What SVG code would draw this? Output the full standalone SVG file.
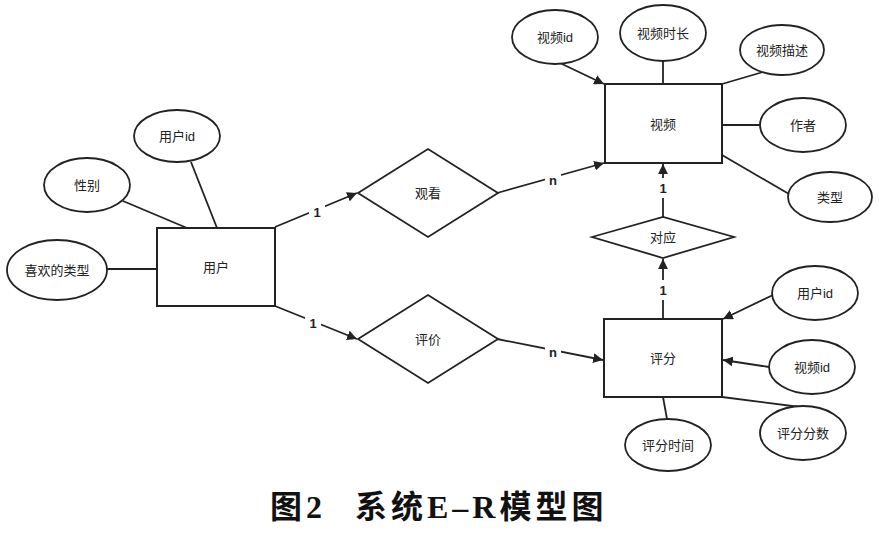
<svg xmlns="http://www.w3.org/2000/svg" width="879" height="535" viewBox="0 0 879 535">
<defs>
<marker id="arr" viewBox="0 0 10 10" refX="10" refY="5" markerWidth="5.5" markerHeight="5.5" orient="auto" markerUnits="strokeWidth">
<path d="M0,0 L10,5 L0,10 z" fill="#222"/>
</marker>
</defs>
<style>
.ent{fill:#fff;stroke:#222;stroke-width:2}
.att{fill:#fff;stroke:#222;stroke-width:1.8}
.rel{fill:#fff;stroke:#222;stroke-width:1.8}
.t{font-family:"Liberation Sans","Noto Sans CJK SC",sans-serif;font-size:13px;fill:#222;text-anchor:middle;dominant-baseline:central}
.lbl{font-family:"Liberation Sans","Noto Sans CJK SC",sans-serif;font-size:13px;font-weight:bold;fill:#222;text-anchor:middle;dominant-baseline:central}
.c{stroke:#222;stroke-width:1.8;fill:none}
.a{marker-end:url(#arr)}
.cap{font-family:"Liberation Serif","Noto Sans CJK SC",serif;font-size:32px;font-weight:bold;fill:#111;letter-spacing:4px}
</style>
<rect width="879" height="535" fill="#fff"/>
<g id="connectors">
<line class="c" x1="123" y1="201" x2="187" y2="228"/>
<line class="c" x1="191" y1="162" x2="217" y2="228"/>
<line class="c" x1="107" y1="269" x2="157" y2="269"/>
<line class="c a" x1="275" y1="227" x2="357" y2="193"/>
<line class="c a" x1="275" y1="306" x2="357" y2="339"/>
<line class="c a" x1="497" y1="193" x2="604" y2="163"/>
<line class="c a" x1="497" y1="339" x2="603" y2="360"/>
<line class="c a" x1="560" y1="63" x2="604" y2="84"/>
<line class="c" x1="663" y1="61" x2="663" y2="84"/>
<line class="c" x1="722" y1="84" x2="763" y2="72"/>
<line class="c" x1="722" y1="125" x2="760" y2="125"/>
<line class="c" x1="722" y1="155" x2="789" y2="194"/>
<line class="c a" x1="663" y1="217" x2="663" y2="164"/>
<line class="c a" x1="663" y1="319" x2="663" y2="259"/>
<line class="c a" x1="773" y1="295" x2="723" y2="319"/>
<line class="c a" x1="769" y1="367" x2="723" y2="360"/>
<line class="c" x1="722" y1="397" x2="800" y2="407"/>
<line class="c" x1="663" y1="397" x2="667" y2="419"/>
<rect x="309" y="204" width="16" height="16" fill="#fff"/>
<text class="lbl" x="317" y="212">1</text>
<rect x="305" y="315" width="16" height="16" fill="#fff"/>
<text class="lbl" x="313" y="323">1</text>
<rect x="545" y="172" width="16" height="16" fill="#fff"/>
<text class="lbl" x="553" y="180">n</text>
<rect x="545" y="344" width="16" height="16" fill="#fff"/>
<text class="lbl" x="553" y="352">n</text>
<rect x="656" y="178" width="14" height="20" fill="#fff"/>
<text class="lbl" x="663" y="188">1</text>
<rect x="656" y="280" width="14" height="20" fill="#fff"/>
<text class="lbl" x="663" y="290">1</text>
</g>
<g id="user">
<rect class="ent" x="157" y="228" width="118" height="78"/>
<text class="t" x="216" y="267">用户</text>
</g>
<g id="user-id">
<ellipse class="att" cx="177" cy="136" rx="43" ry="26"/>
<text class="t" x="177" y="136">用户id</text>
</g>
<g id="gender">
<ellipse class="att" cx="87" cy="185" rx="43" ry="27"/>
<text class="t" x="87" y="185">性别</text>
</g>
<g id="fav-type">
<ellipse class="att" cx="57" cy="270" rx="50" ry="30"/>
<text class="t" x="57" y="270">喜欢的类型</text>
</g>
<g id="watch">
<polygon class="rel" points="358,193 428,149 498,193 428,237"/>
<text class="t" x="428" y="193">观看</text>
</g>
<g id="review">
<polygon class="rel" points="358,339 428,295 498,339 428,383"/>
<text class="t" x="428" y="339">评价</text>
</g>
<g id="video">
<rect class="ent" x="605" y="84" width="117" height="79"/>
<text class="t" x="663" y="124">视频</text>
</g>
<g id="video-id">
<ellipse class="att" cx="555" cy="37" rx="43" ry="27"/>
<text class="t" x="555" y="37">视频id</text>
</g>
<g id="video-duration">
<ellipse class="att" cx="663" cy="33" rx="43" ry="28"/>
<text class="t" x="663" y="33">视频时长</text>
</g>
<g id="video-desc">
<ellipse class="att" cx="782" cy="50" rx="42" ry="25"/>
<text class="t" x="782" y="50">视频描述</text>
</g>
<g id="author">
<ellipse class="att" cx="803" cy="125" rx="43" ry="27"/>
<text class="t" x="803" y="125">作者</text>
</g>
<g id="type">
<ellipse class="att" cx="830" cy="197" rx="42" ry="25"/>
<text class="t" x="830" y="197">类型</text>
</g>
<g id="correspond">
<polygon class="rel" points="592,237 663,217 734,237 663,258"/>
<text class="t" x="663" y="237">对应</text>
</g>
<g id="rating">
<rect class="ent" x="604" y="319" width="118" height="78"/>
<text class="t" x="663" y="358">评分</text>
</g>
<g id="r-user-id">
<ellipse class="att" cx="815" cy="293" rx="43" ry="27"/>
<text class="t" x="815" y="293">用户id</text>
</g>
<g id="r-video-id">
<ellipse class="att" cx="812" cy="367" rx="43" ry="27"/>
<text class="t" x="812" y="367">视频id</text>
</g>
<g id="r-score">
<ellipse class="att" cx="803" cy="433" rx="43" ry="27"/>
<text class="t" x="803" y="433">评分分数</text>
</g>
<g id="r-time">
<ellipse class="att" cx="668" cy="445" rx="43" ry="26"/>
<text class="t" x="668" y="445">评分时间</text>
</g>
<g id="caption">
<text class="cap" x="270" y="518">图2</text>
<text class="cap" x="355" y="518">系统E–R模型图</text>
</g>
</svg>
